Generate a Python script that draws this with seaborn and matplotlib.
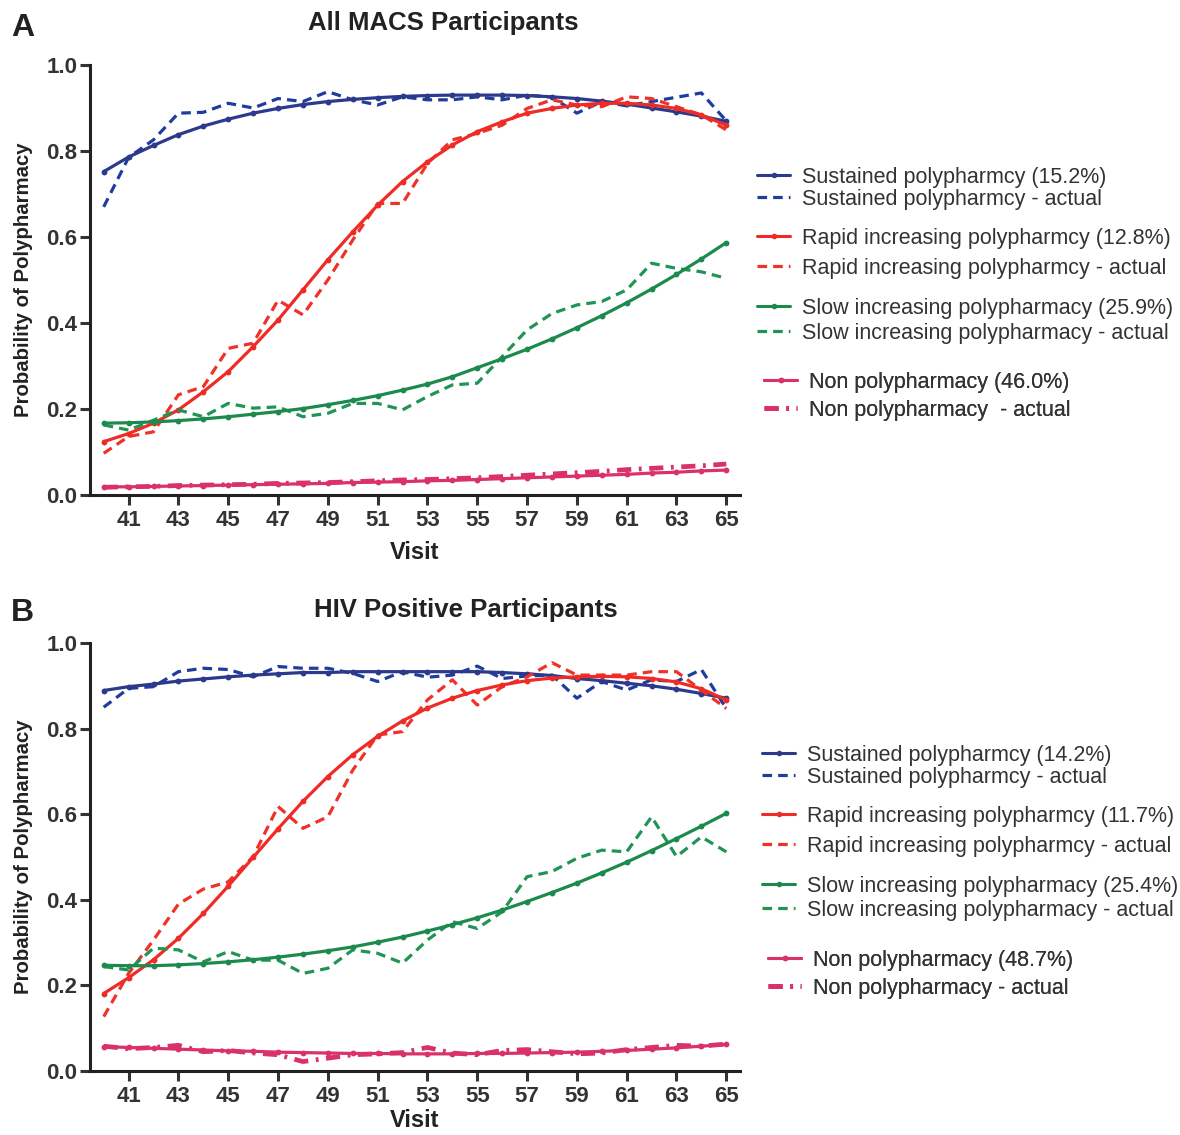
import matplotlib
matplotlib.use("Agg")
import matplotlib.pyplot as plt
import seaborn as sns
from matplotlib.lines import Line2D

visits = list(range(40, 66))
xticks = list(range(41, 66, 2))
yticks = [0.0, 0.2, 0.4, 0.6, 0.8, 1.0]

# Panel A - All MACS participants
a_sus_fit = [0.752, 0.786, 0.813, 0.838, 0.858, 0.874, 0.888, 0.899, 0.908, 0.915, 0.920, 0.924, 0.927,
             0.929, 0.930, 0.930, 0.930, 0.929, 0.926, 0.922, 0.916, 0.909, 0.900, 0.891, 0.881, 0.869]
a_sus_act = [0.670, 0.785, 0.826, 0.888, 0.890, 0.911, 0.900, 0.922, 0.915, 0.938, 0.919, 0.907, 0.926,
             0.919, 0.919, 0.926, 0.919, 0.930, 0.925, 0.888, 0.915, 0.905, 0.915, 0.925, 0.935, 0.870]
a_rap_fit = [0.124, 0.143, 0.167, 0.198, 0.240, 0.287, 0.345, 0.407, 0.477, 0.547, 0.612, 0.674, 0.729,
             0.775, 0.814, 0.845, 0.868, 0.888, 0.899, 0.907, 0.911, 0.911, 0.907, 0.899, 0.884, 0.860]
a_rap_act = [0.097, 0.136, 0.147, 0.233, 0.252, 0.341, 0.353, 0.453, 0.419, 0.500, 0.593, 0.678, 0.678,
             0.771, 0.826, 0.841, 0.860, 0.899, 0.919, 0.907, 0.903, 0.926, 0.922, 0.903, 0.884, 0.849]
a_slow_fit = [0.167, 0.168, 0.170, 0.173, 0.177, 0.182, 0.188, 0.194, 0.201, 0.210, 0.220, 0.231, 0.244,
              0.258, 0.275, 0.296, 0.317, 0.339, 0.363, 0.389, 0.417, 0.447, 0.479, 0.513, 0.549, 0.587]
a_slow_act = [0.163, 0.151, 0.174, 0.198, 0.182, 0.213, 0.202, 0.205, 0.182, 0.190, 0.213, 0.213, 0.198,
              0.229, 0.256, 0.260, 0.322, 0.384, 0.422, 0.442, 0.450, 0.477, 0.539, 0.527, 0.519, 0.504]
a_non_fit = [0.019, 0.019, 0.020, 0.021, 0.022, 0.023, 0.024, 0.025, 0.026, 0.027, 0.029, 0.030, 0.031,
             0.033, 0.034, 0.036, 0.038, 0.040, 0.042, 0.044, 0.046, 0.048, 0.051, 0.053, 0.056, 0.058]
a_non_act = [0.018, 0.019, 0.020, 0.022, 0.023, 0.024, 0.025, 0.027, 0.028, 0.029, 0.031, 0.033, 0.035,
             0.036, 0.038, 0.040, 0.043, 0.046, 0.049, 0.052, 0.055, 0.059, 0.062, 0.065, 0.068, 0.072]

# Panel B - HIV positive participants
b_sus_fit = [0.889, 0.898, 0.904, 0.911, 0.916, 0.921, 0.925, 0.928, 0.931, 0.931, 0.933, 0.933, 0.933,
             0.933, 0.933, 0.933, 0.931, 0.928, 0.924, 0.917, 0.912, 0.906, 0.900, 0.892, 0.882, 0.871]
b_sus_act = [0.850, 0.894, 0.898, 0.933, 0.941, 0.938, 0.921, 0.945, 0.941, 0.941, 0.929, 0.910, 0.933,
             0.920, 0.925, 0.946, 0.917, 0.923, 0.925, 0.871, 0.910, 0.890, 0.914, 0.910, 0.938, 0.847]
b_rap_fit = [0.181, 0.218, 0.260, 0.310, 0.368, 0.432, 0.499, 0.566, 0.630, 0.688, 0.739, 0.782, 0.818,
             0.848, 0.871, 0.889, 0.902, 0.912, 0.918, 0.921, 0.922, 0.921, 0.917, 0.909, 0.893, 0.867]
b_rap_act = [0.127, 0.228, 0.306, 0.390, 0.425, 0.442, 0.501, 0.618, 0.567, 0.594, 0.703, 0.785, 0.793,
             0.867, 0.914, 0.855, 0.898, 0.921, 0.954, 0.925, 0.925, 0.925, 0.933, 0.933, 0.890, 0.847]
b_slow_fit = [0.247, 0.246, 0.246, 0.248, 0.251, 0.255, 0.260, 0.266, 0.273, 0.281, 0.290, 0.301, 0.313,
              0.327, 0.342, 0.358, 0.376, 0.396, 0.417, 0.439, 0.463, 0.488, 0.515, 0.543, 0.572, 0.602]
b_slow_act = [0.244, 0.236, 0.287, 0.283, 0.255, 0.279, 0.259, 0.259, 0.228, 0.240, 0.283, 0.275, 0.252,
              0.306, 0.349, 0.333, 0.372, 0.454, 0.466, 0.497, 0.516, 0.512, 0.594, 0.501, 0.547, 0.512]
b_non_fit = [0.057, 0.055, 0.053, 0.051, 0.049, 0.047, 0.046, 0.044, 0.043, 0.042, 0.041, 0.041, 0.040,
             0.040, 0.040, 0.041, 0.041, 0.042, 0.043, 0.044, 0.046, 0.048, 0.051, 0.054, 0.058, 0.062]
b_non_act = [0.058, 0.052, 0.055, 0.060, 0.045, 0.048, 0.042, 0.038, 0.022, 0.030, 0.038, 0.040, 0.043,
             0.055, 0.042, 0.038, 0.048, 0.050, 0.045, 0.040, 0.042, 0.050, 0.055, 0.060, 0.058, 0.063]

a_labels = ["Sustained polypharmcy (15.2%)", "Sustained polypharmcy - actual",
            "Rapid increasing polypharmcy (12.8%)", "Rapid increasing polypharmcy - actual",
            "Slow increasing polypharmacy (25.9%)", "Slow increasing polypharmacy - actual",
            "Non polypharmacy (46.0%)", "Non polypharmacy  - actual"]
b_labels = ["Sustained polypharmcy (14.2%)", "Sustained polypharmcy - actual",
            "Rapid increasing polypharmcy (11.7%)", "Rapid increasing polypharmcy - actual",
            "Slow increasing polypharmacy (25.4%)", "Slow increasing polypharmacy - actual",
            "Non polypharmacy (48.7%)", "Non polypharmacy - actual"]

fit_colors = ["#2b3a8c", "#ee2b24", "#1b8a4c", "#d93168"]
act_colors = ["#1f3c9e", "#f0312a", "#1f9455", "#d93168"]

sns.set_style("ticks")
plt.rcParams["font.family"] = ["Liberation Sans", "DejaVu Sans"]

fig = plt.figure(figsize=(11.8, 11.35), dpi=100)
ax_a = fig.add_axes([90 / 1180, 1 - 495 / 1135, 650 / 1180, 430 / 1135])
ax_b = fig.add_axes([90 / 1180, 1 - 1071 / 1135, 650 / 1180, 428 / 1135])

LEG_FS = 15.5


def draw_panel(ax, fits, acts, xlabel_pad):
    handles = []
    for i, (fit, act) in enumerate(zip(fits, acts)):
        if i == 3:
            dash = (3.0, 1.6, 0.6, 1.6)
            lw_act = 3.4
        else:
            dash = (3.0, 1.9)
            lw_act = 2.3
        sns.lineplot(x=visits, y=act, ax=ax, color=act_colors[i], linewidth=lw_act,
                     legend=False).lines[-1].set_dashes(dash)
        sns.lineplot(x=visits, y=fit, ax=ax, color=fit_colors[i], linewidth=2.3,
                     marker="o", markersize=4.2, markeredgewidth=0, legend=False)
        h_fit = Line2D([], [], color=fit_colors[i], linewidth=2.2, marker="o",
                       markersize=4, markeredgewidth=0)
        h_act = Line2D([], [], color=act_colors[i], linewidth=lw_act, dashes=dash)
        handles.append((h_fit, h_act))
    ax.set_xlim(39.45, 65.55)
    ax.set_ylim(0, 1.0)
    ax.set_xticks(xticks)
    ax.set_yticks(yticks)
    ax.set_yticklabels([f"{t:.1f}" for t in yticks])
    ax.tick_params(axis="both", width=2.2, length=7, labelsize=16, pad=4, colors="#333333")
    ax.tick_params(axis="y", pad=2)
    for lab in ax.get_xticklabels() + ax.get_yticklabels():
        lab.set_fontweight("bold")
    for s in ["left", "bottom"]:
        ax.spines[s].set_linewidth(2.2)
        ax.spines[s].set_color("#222222")
    sns.despine(ax=ax)
    ax.set_xlabel("Visit", fontsize=17, fontweight="bold", labelpad=xlabel_pad, color="#222222")
    ax.set_ylabel("Probability of Polypharmacy", fontsize=14.7, fontweight="bold",
                  labelpad=10, color="#222222")
    return handles


def draw_legends(ax, handles, labels, rows, lefts):
    fs_px = LEG_FS * 100 / 72
    for g in range(4):
        y1, y2 = rows[g]
        spacing = (y2 - y1 - 0.93 * fs_px) / fs_px
        leg = ax.legend(list(handles[g]), labels[2 * g:2 * g + 2], loc="center left",
                        bbox_to_anchor=(lefts[g] / 1180, 1 - ((y1 + y2) / 2 + 2) / 1135),
                        bbox_transform=fig.transFigure, frameon=False, fontsize=LEG_FS,
                        handlelength=1.55, handletextpad=0.55, labelspacing=spacing,
                        borderpad=0, borderaxespad=0, numpoints=1)
        for t in leg.get_texts():
            t.set_color("#333333")
        ax.add_artist(leg)


h_a = draw_panel(ax_a, [a_sus_fit, a_rap_fit, a_slow_fit, a_non_fit],
                 [a_sus_act, a_rap_act, a_slow_act, a_non_act], 7)
h_b = draw_panel(ax_b, [b_sus_fit, b_rap_fit, b_slow_fit, b_non_fit],
                 [b_sus_act, b_rap_act, b_slow_act, b_non_act], 1)

draw_legends(ax_a, h_a, a_labels, [(176, 197), (237, 266), (307, 331), (381, 408)],
             [757, 757, 757, 764])
draw_legends(ax_b, h_b, b_labels, [(754, 775), (815, 844), (885, 908), (959, 986)],
             [762, 762, 762, 768])

fig.text(11 / 1180, 1 - 28 / 1135, "A", fontsize=23, fontweight="bold", va="center", color="#222222")
fig.text(11 / 1180, 1 - 613 / 1135, "B", fontsize=23, fontweight="bold", va="center", color="#222222")
fig.text(443 / 1180, 1 - 23 / 1135, "All MACS Participants", fontsize=18.5, fontweight="bold",
         ha="center", va="center", color="#222222")
fig.text(466 / 1180, 1 - 610 / 1135, "HIV Positive Participants", fontsize=18.5, fontweight="bold",
         ha="center", va="center", color="#222222")

fig.savefig("out.png", dpi=100, facecolor="white")
